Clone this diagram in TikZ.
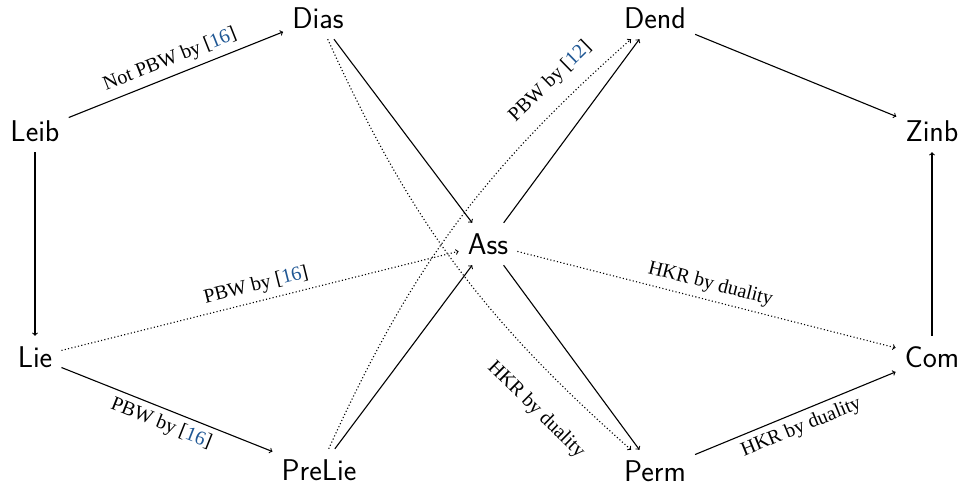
\documentclass[tikz,border=0pt]{standalone}
\usepackage{fontspec}
\newfontfamily\labfont{Liberation Serif}
\definecolor{citeblue}{RGB}{31,87,148}
\newcommand\refnum[1]{[\textcolor{citeblue}{#1}]}
\tikzset{
  alg/.style={font=\fontsize{30}{36}\sffamily, text height=21pt, text depth=0pt,
    inner xsep=9pt, inner ysep=10.5pt},
  lab/.style={font=\fontsize{20}{24}\labfont, inner sep=6pt},
  arr/.style={->, line width=1.1pt},
  dots/.style={dash pattern=on 1.1pt off 2.3pt}
}
\begin{document}
\begin{tikzpicture}[x=1pt,y=1pt]
\useasboundingbox (0,0) rectangle (973,-489);
\node[alg] (Leib) at (35,-131) {Leib};
\node[alg] (Dias) at (318,-18) {Dias};
\node[alg] (Dend) at (655,-18) {Dend};
\node[alg] (Zinb) at (932,-131) {Zinb};
\node[alg] (Ass) at (488,-244) {Ass};
\node[alg] (Lie) at (35,-357) {Lie};
\node[alg] (Com) at (932,-357) {Com};
\node[alg] (PreLie) at (319,-470) {PreLie};
\node[alg] (Perm) at (655,-471) {Perm};

\draw[arr] (Leib) -- node[lab, midway, above, sloped] {Not PBW by \refnum{16}} (Dias);
\draw[arr] (Leib) -- (Lie);
\draw[arr] (Dias) -- (Ass);
\draw[arr, dots] (Dias) to[bend right=12] node[lab, pos=0.83, below=20pt, sloped] {HKR by duality} (Perm);
\draw[arr] (Ass) -- (Perm);
\draw[arr] (Ass) -- (Dend);
\draw[arr] (PreLie) -- (Ass);
\draw[arr, dots] (PreLie) to[bend left=12] node[lab, pos=0.845, above=8pt, sloped] {PBW by \refnum{12}} (Dend);
\draw[arr, dots] (Lie) -- node[lab, midway, above, sloped] {PBW by \refnum{16}} (Ass);
\draw[arr] (Lie) -- node[lab, midway, below, sloped] {PBW by \refnum{16}} (PreLie);
\draw[arr, dots] (Ass) -- node[lab, midway, above, sloped] {HKR by duality} (Com);
\draw[arr] (Perm) -- node[lab, midway, below, sloped] {HKR by duality} (Com);
\draw[arr] (Dend) -- (Zinb);
\draw[arr] (Com) -- (Zinb);
\end{tikzpicture}
\end{document}
